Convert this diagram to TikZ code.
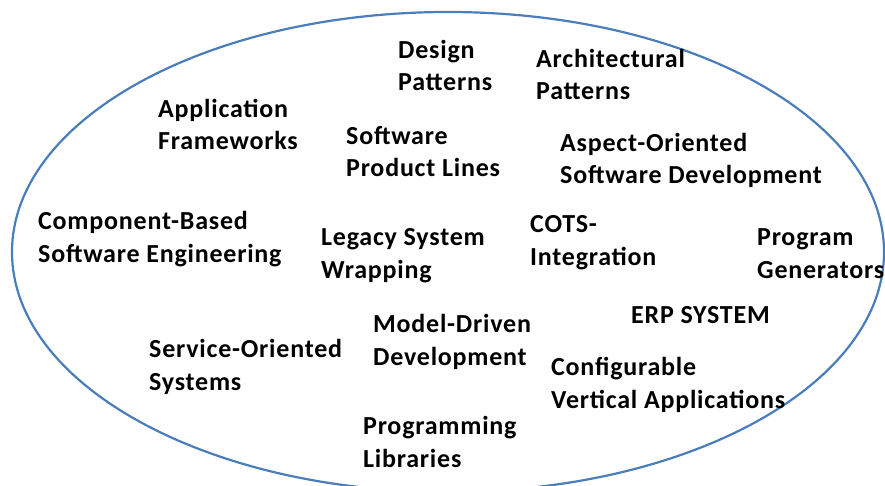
\documentclass[tikz,border=0pt]{standalone}
\usepackage{fontspec}
\setmainfont{Carlito}[LetterSpace=3]
\usepackage{tikz}
\definecolor{ovalblue}{RGB}{74,126,187}

\begin{document}
\begin{tikzpicture}[x=1pt,y=-1pt,
    topic/.style={anchor=base west,align=left,inner sep=0pt,
      font=\fontsize{26}{32.5}\selectfont\bfseries}]
                \useasboundingbox (0,0) rectangle (885,486);
                % 绘制椭圆
                \draw[ovalblue, line width=2.2pt] (448,252) ellipse [x radius=436, y radius=240];
                % 上部 (坐标为最后一行的基线)
                \node[topic] (design) at (398,91) {Design\\Patterns};
                \node[topic] (arch) at (536,100) {Architectural\\Patterns};
                \node[topic] (appfw) at (158,150) {Application\\Frameworks};
                \node[topic] (spl) at (346,177) {Software\\Product Lines};
                \node[topic] (aosd) at (560,184) {Aspect-Oriented\\Software Development};
                % 中部
                \node[topic] (cbse) at (38,262) {Component-Based\\Software Engineering};
                \node[topic] (legacy) at (321,278) {Legacy System\\Wrapping};
                \node[topic] (cots) at (530,265) {COTS-\\Integration};
                \node[topic] (progen) at (757,278) {Program\\Generators};
                % 下部
                \node[topic] (erp) at (631,323) {ERP SYSTEM};
                \node[topic] (mdd) at (373,365) {Model-Driven\\Development};
                \node[topic] (soa) at (149,390) {Service-Oriented\\Systems};
                \node[topic] (config) at (551,408) {Configurable\\Vertical Applications};
                \node[topic] (proglib) at (363,467) {Programming\\Libraries};
            \end{tikzpicture}
\end{document}
